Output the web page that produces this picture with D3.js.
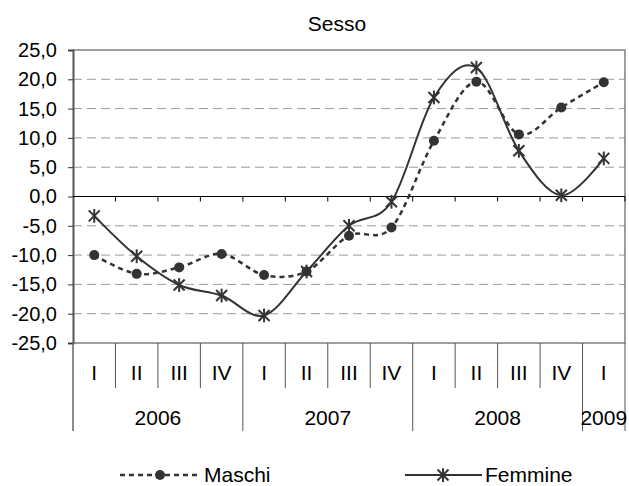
<!DOCTYPE html>
<html>
<head>
<meta charset="utf-8">
<script src="https://cdn.jsdelivr.net/npm/d3@7"></script>
<style>
  body { margin: 0; background: #fff; }
  text { font-family: "Liberation Sans", Arial, sans-serif; fill: #000; }
</style>
</head>
<body>
<svg id="chart" width="629" height="486"></svg>
<script>
// data
var quarters = ["I", "II", "III", "IV", "I", "II", "III", "IV", "I", "II", "III", "IV", "I"];
var years = ["2006", "2007", "2008", "2009"];
var yearSpans = [4, 4, 4, 1]; // quarters per year
var maschi = [-10.0, -13.2, -12.1, -9.8, -13.4, -12.8, -6.7, -5.3, 9.5, 19.6, 10.6, 15.2, 19.5];
var femmine = [-3.3, -10.2, -15.1, -16.9, -20.3, -12.8, -5.0, -0.9, 16.9, 22.0, 7.8, 0.2, 6.5];
var yTicks = [-25, -20, -15, -10, -5, 0, 5, 10, 15, 20, 25];

// layout
var PLOT_LEFT = 73, PLOT_RIGHT = 625, PLOT_TOP = 50, PLOT_BOTTOM = 343;
var ROW1_BOTTOM = 388, ROW2_BOTTOM = 431;
var LINE_COLOR = "#333";
var FONT = "21px";

var svg = d3.select("#chart");
var idx = d3.range(quarters.length);

var x = d3.scaleBand().domain(idx).range([PLOT_LEFT, PLOT_RIGHT]);
var y = d3.scaleLinear().domain([-25, 25]).range([PLOT_BOTTOM, PLOT_TOP]);

var itLocale = d3.formatLocale({decimal: ",", thousands: ".", grouping: [3], currency: ["", "€"], minus: "-"});
var fmt = itLocale.format(".1f");

// title
svg.append("text")
    .attr("x", 337).attr("y", 31)
    .attr("text-anchor", "middle")
    .style("font-size", FONT)
    .text("Sesso");

// grid lines (dashed)
svg.append("g").selectAll("line")
    .data(yTicks.filter(function(d){ return d != 0 && d != 25 && d != -25; }))
    .enter().append("line")
    .attr("x1", PLOT_LEFT).attr("x2", PLOT_RIGHT)
    .attr("y1", function(d){ return y(d); })
    .attr("y2", function(d){ return y(d); })
    .attr("stroke", "#9a9a9a")
    .attr("stroke-width", 1)
    .attr("stroke-dasharray", "9,5");

// plot area border (top, right, bottom)
svg.append("path")
    .attr("d", "M" + PLOT_LEFT + "," + y(25) + "H" + PLOT_RIGHT + "V" + y(-25) + "H" + PLOT_LEFT)
    .attr("fill", "none")
    .attr("stroke", "#808080")
    .attr("stroke-width", 1.5);

// y axis
var yAxis = svg.append("g")
    .attr("transform", "translate(" + PLOT_LEFT + ",0)")
    .call(d3.axisLeft(y).tickValues(yTicks).tickFormat(fmt).tickSize(5).tickPadding(11));
yAxis.select(".domain").attr("stroke", "#555").attr("stroke-width", 2);
yAxis.selectAll(".tick line").attr("stroke", "#333");
yAxis.selectAll(".tick text")
    .style("font-size", "20px")
    .style("font-family", "'Liberation Sans', Arial, sans-serif");

// zero line with category ticks
svg.append("line")
    .attr("x1", PLOT_LEFT).attr("x2", PLOT_RIGHT)
    .attr("y1", y(0)).attr("y2", y(0))
    .attr("stroke", "#000").attr("stroke-width", 1);
svg.append("g").selectAll("line")
    .data(d3.range(1, quarters.length + 1))
    .enter().append("line")
    .attr("x1", function(i){ return PLOT_LEFT + i * x.bandwidth(); })
    .attr("x2", function(i){ return PLOT_LEFT + i * x.bandwidth(); })
    .attr("y1", y(0)).attr("y2", y(0) + 5)
    .attr("stroke", "#000");

// category table below the plot
var yearBounds = [0];
yearSpans.forEach(function(s, k){ yearBounds.push(yearBounds[k] + s); });

svg.append("g").selectAll("line")
    .data(d3.range(0, quarters.length + 1))
    .enter().append("line")
    .attr("x1", function(i){ return PLOT_LEFT + i * x.bandwidth(); })
    .attr("x2", function(i){ return PLOT_LEFT + i * x.bandwidth(); })
    .attr("y1", PLOT_BOTTOM)
    .attr("y2", function(i){ return yearBounds.indexOf(i) > -1 ? ROW2_BOTTOM : ROW1_BOTTOM; })
    .attr("stroke", function(i){ return i == 0 ? "#666" : "#555"; })
    .attr("stroke-width", function(i){ return i == 0 ? 1.5 : 1; });

svg.append("g").selectAll("text")
    .data(quarters)
    .enter().append("text")
    .attr("x", function(d, i){ return x(i) + x.bandwidth() / 2; })
    .attr("y", 380)
    .attr("text-anchor", "middle")
    .style("font-size", FONT)
    .text(function(d){ return d; });

svg.append("g").selectAll("text")
    .data(years)
    .enter().append("text")
    .attr("x", function(d, k){ return PLOT_LEFT + (yearBounds[k] + yearSpans[k] / 2) * x.bandwidth(); })
    .attr("y", 425)
    .attr("text-anchor", "middle")
    .style("font-size", FONT)
    .text(function(d){ return d; });

// series lines
var line = d3.line()
    .x(function(d, i){ return x(i) + x.bandwidth() / 2; })
    .y(function(d){ return y(d); })
    .curve(d3.curveCardinal.tension(0));

svg.append("path")
    .datum(maschi)
    .attr("d", line)
    .attr("fill", "none")
    .attr("stroke", LINE_COLOR)
    .attr("stroke-width", 2.5)
    .attr("stroke-dasharray", "5,4");

svg.append("path")
    .datum(femmine)
    .attr("d", line)
    .attr("fill", "none")
    .attr("stroke", LINE_COLOR)
    .attr("stroke-width", 2);

// markers
function star(g, size){
    var s = size / 2;
    g.append("line").attr("x1", -s).attr("y1", -s).attr("x2", s).attr("y2", s);
    g.append("line").attr("x1", -s).attr("y1", s).attr("x2", s).attr("y2", -s);
    g.append("line").attr("x1", 0).attr("y1", -s * 1.25).attr("x2", 0).attr("y2", s * 1.25);
    g.attr("stroke", LINE_COLOR).attr("stroke-width", 2);
}

svg.append("g").selectAll("circle")
    .data(maschi)
    .enter().append("circle")
    .attr("cx", function(d, i){ return x(i) + x.bandwidth() / 2; })
    .attr("cy", function(d){ return y(d); })
    .attr("r", 5)
    .attr("fill", LINE_COLOR);

svg.append("g").selectAll("g")
    .data(femmine)
    .enter().append("g")
    .attr("transform", function(d, i){ return "translate(" + (x(i) + x.bandwidth() / 2) + "," + y(d) + ")"; })
    .each(function(){ star(d3.select(this), 11); });

// legend
var legend = svg.append("g");
legend.append("line")
    .attr("x1", 120).attr("x2", 201).attr("y1", 475).attr("y2", 475)
    .attr("stroke", LINE_COLOR).attr("stroke-width", 2.5).attr("stroke-dasharray", "5,4");
legend.append("circle").attr("cx", 160).attr("cy", 475).attr("r", 5).attr("fill", LINE_COLOR);
legend.append("text").attr("x", 204).attr("y", 482).style("font-size", FONT).text("Maschi");

legend.append("line")
    .attr("x1", 405).attr("x2", 482).attr("y1", 475).attr("y2", 475)
    .attr("stroke", LINE_COLOR).attr("stroke-width", 2);
var lstar = legend.append("g").attr("transform", "translate(443,475)");
star(lstar, 11);
legend.append("text").attr("x", 485).attr("y", 482).style("font-size", FONT).text("Femmine");
</script>
</body>
</html>
